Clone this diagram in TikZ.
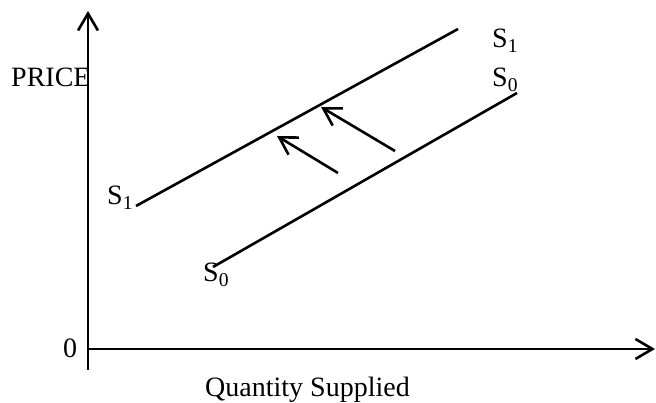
\documentclass[tikz,border=0pt]{standalone}
\usepackage{fontspec}
\setmainfont{Liberation Serif}
\usetikzlibrary{arrows.meta}

\begin{document}
\begin{tikzpicture}[
        x=1pt, y=1pt,
        every node/.style={font=\fontsize{28}{32}\selectfont, inner sep=0pt, anchor=base west},
        curve/.style={line width=2.6pt},
        axis/.style={line width=2.6pt, -{Straight Barb[length=17pt, width=20pt]}},
        shiftarrow/.style={line width=2.6pt, -{Straight Barb[length=17pt, width=20pt]}}
    ]
    \useasboundingbox (0,0) rectangle (656,403);

    % axes
    \coordinate (origin) at (88,54);
    \coordinate (ybottom) at (88,33);
    \coordinate (ytop) at (88,392);
    \coordinate (xright) at (655,54);
    \draw[axis] (ybottom) -- (ytop);
    \draw[axis] (origin) -- (xright);
    \node (price) at (11,316) {PRICE};
    \node (zero) at (63,45) {0};
    \node (qty) at (205,6) {Quantity Supplied};

    % supply curves
    \coordinate (s1a) at (136,197);
    \coordinate (s1b) at (458,374);
    \coordinate (s0a) at (213,136);
    \coordinate (s0b) at (517,310);
    \draw[curve] (s1a) -- (s1b);
    \draw[curve] (s0a) -- (s0b);
    \node (s1left) at (107,198) {S\textsubscript{1}};
    \node (s0left) at (203,121) {S\textsubscript{0}};
    \node (s1right) at (492,355) {S\textsubscript{1}};
    \node (s0right) at (492,316) {S\textsubscript{0}};

    % shift of supply
    \coordinate (tail1) at (338,230);
    \coordinate (head1) at (277,267);
    \coordinate (tail2) at (395,252);
    \coordinate (head2) at (321,296);
    \draw[shiftarrow] (tail1) -- (head1);
    \draw[shiftarrow] (tail2) -- (head2);
\end{tikzpicture}
\end{document}
